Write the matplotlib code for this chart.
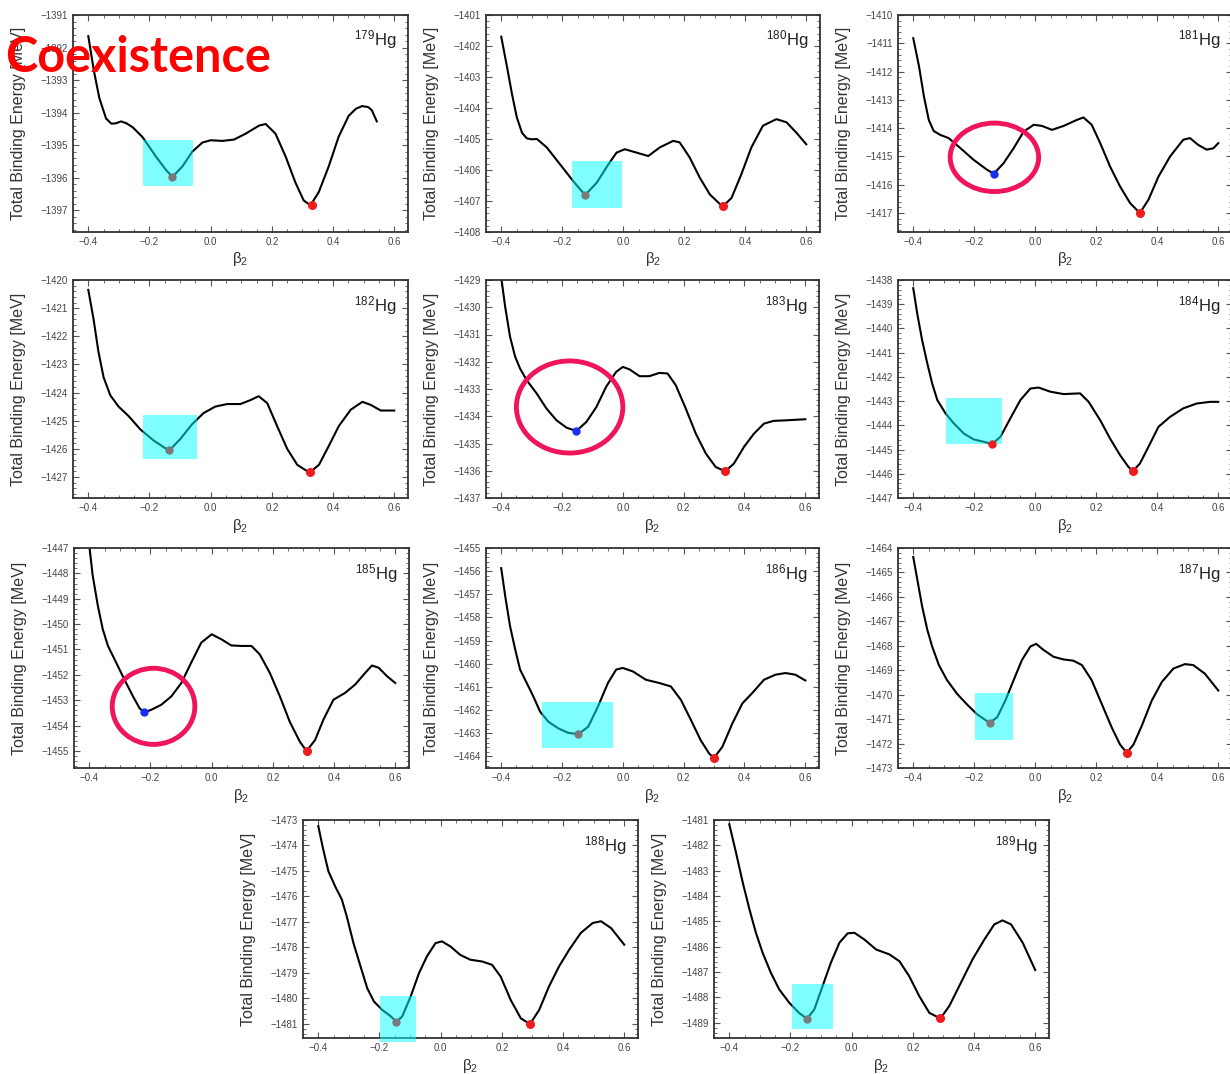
import matplotlib
matplotlib.use('Agg')
import matplotlib.pyplot as plt
from matplotlib.patches import Rectangle, Ellipse
from matplotlib.ticker import MultipleLocator

plt.rcParams['font.family'] = ['Liberation Sans', 'DejaVu Sans']
plt.rcParams['mathtext.default'] = 'regular'

# ---- energy curves (beta_2, total binding energy in MeV) ----
beta_179 = [-0.4, -0.382, -0.364, -0.342, -0.325, -0.31, -0.293, -0.275, -0.255, -0.223, -0.179, -0.147, -0.125,
            -0.092, -0.06, -0.027, 0.0, 0.038, 0.076, 0.114, 0.158, 0.18, 0.212, 0.245, 0.277, 0.304, 0.326,
            0.353, 0.386, 0.418, 0.451, 0.475, 0.495, 0.515, 0.527, 0.543]
E_179 = [-1391.65, -1392.7, -1393.55, -1394.18, -1394.34, -1394.33, -1394.27, -1394.33, -1394.45, -1394.75,
         -1395.35, -1395.75, -1395.98, -1395.65, -1395.2, -1394.92, -1394.85, -1394.87, -1394.83, -1394.65,
         -1394.4, -1394.35, -1394.65, -1395.35, -1396.15, -1396.7, -1396.85, -1396.45, -1395.65, -1394.75,
         -1394.1, -1393.88, -1393.8, -1393.83, -1393.93, -1394.27]

beta_180 = [-0.4, -0.381, -0.365, -0.349, -0.332, -0.316, -0.3, -0.283, -0.251, -0.207, -0.164, -0.125, -0.087,
            -0.049, -0.022, 0.005, 0.044, 0.082, 0.12, 0.164, 0.185, 0.218, 0.251, 0.284, 0.316, 0.327, 0.355,
            0.387, 0.42, 0.458, 0.502, 0.535, 0.567, 0.6]
E_180 = [-1401.70, -1402.68, -1403.54, -1404.30, -1404.80, -1404.98, -1405.01, -1405.0, -1405.27, -1405.82,
         -1406.36, -1406.81, -1406.41, -1405.82, -1405.44, -1405.33, -1405.44, -1405.55, -1405.27, -1405.06,
         -1405.11, -1405.60, -1406.25, -1406.79, -1407.09, -1407.17, -1406.90, -1406.14, -1405.27, -1404.57,
         -1404.36, -1404.46, -1404.79, -1405.17]

beta_181 = [-0.4, -0.381, -0.365, -0.349, -0.333, -0.311, -0.284, -0.245, -0.202, -0.158, -0.136, -0.104,
            -0.071, -0.038, -0.005, 0.022, 0.055, 0.093, 0.136, 0.158, 0.185, 0.213, 0.245, 0.278, 0.311, 0.343,
            0.371, 0.404, 0.442, 0.485, 0.507, 0.534, 0.562, 0.584, 0.6]
E_181 = [-1410.82, -1411.82, -1412.88, -1413.71, -1414.10, -1414.24, -1414.35, -1414.71, -1415.12, -1415.47,
         -1415.61, -1415.24, -1414.71, -1414.12, -1413.88, -1413.92, -1414.06, -1413.92, -1413.71, -1413.62,
         -1413.88, -1414.53, -1415.35, -1416.06, -1416.65, -1417.0, -1416.53, -1415.71, -1415.0, -1414.41,
         -1414.35, -1414.59, -1414.76, -1414.71, -1414.53]

beta_182 = [-0.4, -0.383, -0.367, -0.35, -0.328, -0.301, -0.268, -0.23, -0.186, -0.154, -0.135, -0.099,
            -0.061, -0.023, 0.015, 0.054, 0.097, 0.13, 0.157, 0.185, 0.217, 0.25, 0.283, 0.316, 0.325, 0.354,
            0.387, 0.419, 0.458, 0.496, 0.523, 0.556, 0.6]
E_182 = [-1420.35, -1421.38, -1422.54, -1423.46, -1424.10, -1424.50, -1424.84, -1425.31, -1425.71, -1425.94,
         -1426.06, -1425.65, -1425.13, -1424.73, -1424.50, -1424.41, -1424.41, -1424.27, -1424.13, -1424.38,
         -1425.19, -1426.0, -1426.57, -1426.80, -1426.83, -1426.57, -1425.88, -1425.19, -1424.61, -1424.33,
         -1424.44, -1424.64, -1424.64]

beta_183 = [-0.4, -0.387, -0.371, -0.354, -0.338, -0.316, -0.283, -0.251, -0.218, -0.185, -0.153, -0.12,
            -0.087, -0.055, -0.022, 0.0, 0.022, 0.055, 0.087, 0.12, 0.147, 0.174, 0.207, 0.24, 0.273, 0.305,
            0.336, 0.365, 0.398, 0.431, 0.464, 0.496, 0.535, 0.6]
E_183 = [-1428.9, -1429.98, -1431.08, -1431.82, -1432.25, -1432.68, -1433.17, -1433.72, -1434.15, -1434.42,
         -1434.54, -1434.21, -1433.66, -1432.92, -1432.37, -1432.19, -1432.28, -1432.53, -1432.53, -1432.41,
         -1432.43, -1432.86, -1433.72, -1434.64, -1435.37, -1435.86, -1436.02, -1435.74, -1435.13, -1434.64,
         -1434.27, -1434.17, -1434.15, -1434.11]

beta_184 = [-0.4, -0.387, -0.371, -0.354, -0.338, -0.321, -0.294, -0.267, -0.234, -0.202, -0.169, -0.142,
            -0.114, -0.082, -0.049, -0.016, 0.011, 0.049, 0.093, 0.147, 0.175, 0.213, 0.245, 0.278, 0.305, 0.32,
            0.343, 0.371, 0.404, 0.442, 0.485, 0.529, 0.573, 0.6]
E_184 = [-1438.34, -1439.38, -1440.48, -1441.44, -1442.27, -1442.96, -1443.51, -1443.92, -1444.34, -1444.58,
         -1444.68, -1444.78, -1444.47, -1443.72, -1442.96, -1442.48, -1442.44, -1442.61, -1442.71, -1442.68,
         -1443.03, -1443.79, -1444.54, -1445.23, -1445.71, -1445.89, -1445.58, -1444.89, -1444.06, -1443.65,
         -1443.30, -1443.10, -1443.03, -1443.03]

beta_185 = [-0.4, -0.389, -0.372, -0.356, -0.339, -0.312, -0.285, -0.257, -0.236, -0.221, -0.198, -0.165,
            -0.132, -0.099, -0.067, -0.034, 0.0, 0.032, 0.064, 0.097, 0.13, 0.157, 0.19, 0.223, 0.255, 0.288,
            0.31, 0.338, 0.365, 0.398, 0.436, 0.469, 0.502, 0.524, 0.546, 0.573, 0.6]
E_185 = [-1446.9, -1448.08, -1449.28, -1450.20, -1450.86, -1451.52, -1452.19, -1452.85, -1453.31, -1453.48,
         -1453.38, -1453.18, -1452.85, -1452.32, -1451.52, -1450.73, -1450.40, -1450.60, -1450.84, -1450.86,
         -1450.86, -1451.19, -1451.92, -1452.85, -1453.84, -1454.63, -1455.0, -1454.57, -1453.77, -1452.98,
         -1452.71, -1452.38, -1451.92, -1451.63, -1451.72, -1452.05, -1452.32]

beta_186 = [-0.4, -0.387, -0.371, -0.354, -0.338, -0.316, -0.294, -0.272, -0.245, -0.212, -0.18, -0.147,
            -0.114, -0.082, -0.049, -0.022, 0.0, 0.033, 0.076, 0.12, 0.158, 0.191, 0.224, 0.256, 0.284, 0.3,
            0.327, 0.36, 0.393, 0.425, 0.464, 0.502, 0.535, 0.567, 0.6]
E_186 = [-1455.87, -1457.06, -1458.37, -1459.38, -1460.25, -1460.83, -1461.42, -1462.07, -1462.50, -1462.79,
         -1462.98, -1463.04, -1462.72, -1461.85, -1460.83, -1460.25, -1460.18, -1460.33, -1460.69, -1460.83,
         -1460.98, -1461.56, -1462.43, -1463.30, -1463.88, -1464.06, -1463.59, -1462.58, -1461.71, -1461.27,
         -1460.69, -1460.47, -1460.40, -1460.47, -1460.72]

beta_187 = [-0.4, -0.387, -0.371, -0.354, -0.338, -0.316, -0.289, -0.256, -0.223, -0.191, -0.163, -0.149,
            -0.125, -0.098, -0.071, -0.044, -0.016, 0.003, 0.027, 0.06, 0.093, 0.125, 0.153, 0.185, 0.218, 0.251,
            0.278, 0.3, 0.322, 0.349, 0.382, 0.415, 0.453, 0.491, 0.518, 0.556, 0.6]
E_187 = [-1464.37, -1465.27, -1466.38, -1467.34, -1468.03, -1468.79, -1469.41, -1469.97, -1470.41, -1470.80,
         -1471.04, -1471.14, -1470.93, -1470.24, -1469.41, -1468.59, -1468.03, -1467.92, -1468.17, -1468.45,
         -1468.56, -1468.61, -1468.79, -1469.41, -1470.38, -1471.35, -1472.04, -1472.38, -1472.04, -1471.28,
         -1470.24, -1469.48, -1468.93, -1468.75, -1468.79, -1469.14, -1469.83]

beta_188 = [-0.4, -0.384, -0.367, -0.345, -0.323, -0.307, -0.285, -0.262, -0.24, -0.218, -0.191, -0.164,
            -0.145, -0.126, -0.098, -0.071, -0.045, -0.017, 0.004, 0.032, 0.064, 0.097, 0.136, 0.168, 0.196,
            0.229, 0.262, 0.292, 0.322, 0.354, 0.387, 0.42, 0.458, 0.497, 0.524, 0.557, 0.6]
E_188 = [-1473.24, -1474.15, -1475.01, -1475.60, -1476.12, -1476.78, -1477.83, -1478.74, -1479.60, -1480.12,
         -1480.45, -1480.69, -1480.91, -1480.71, -1479.92, -1479.01, -1478.35, -1477.83, -1477.76, -1477.96,
         -1478.29, -1478.48, -1478.55, -1478.68, -1479.14, -1480.06, -1480.78, -1481.0, -1480.45, -1479.53,
         -1478.74, -1478.09, -1477.43, -1477.04, -1476.97, -1477.24, -1477.89]

beta_189 = [-0.4, -0.378, -0.356, -0.334, -0.313, -0.291, -0.264, -0.237, -0.204, -0.172, -0.146, -0.122,
            -0.095, -0.068, -0.04, -0.013, 0.009, 0.041, 0.08, 0.123, 0.156, 0.188, 0.221, 0.254, 0.29, 0.319,
            0.357, 0.395, 0.434, 0.466, 0.493, 0.521, 0.559, 0.6]
E_189 = [-1481.17, -1482.29, -1483.47, -1484.53, -1485.45, -1486.24, -1487.03, -1487.68, -1488.21, -1488.61,
         -1488.84, -1488.47, -1487.55, -1486.63, -1485.84, -1485.47, -1485.45, -1485.71, -1486.11, -1486.30,
         -1486.57, -1487.16, -1487.95, -1488.61, -1488.83, -1488.34, -1487.42, -1486.50, -1485.71, -1485.12,
         -1484.96, -1485.12, -1485.84, -1486.92]

isotopes = [179, 180, 181, 182, 183, 184, 185, 186, 187, 188, 189]
betas = [beta_179, beta_180, beta_181, beta_182, beta_183, beta_184, beta_185, beta_186, beta_187, beta_188, beta_189]
energies = [E_179, E_180, E_181, E_182, E_183, E_184, E_185, E_186, E_187, E_188, E_189]

# oblate (second) minimum and prolate (global) minimum
oblate_beta = [-0.125, -0.125, -0.136, -0.135, -0.153, -0.142, -0.221, -0.147, -0.149, -0.145, -0.146]
oblate_E = [-1395.97, -1406.81, -1415.61, -1426.06, -1434.54, -1444.78, -1453.48, -1463.04, -1471.14, -1480.91, -1488.84]
oblate_kind = ['gray', 'gray', 'blue', 'gray', 'blue', 'red', 'blue', 'gray', 'gray', 'gray', 'gray']
prolate_beta = [0.33, 0.327, 0.343, 0.325, 0.336, 0.320, 0.310, 0.300, 0.300, 0.292, 0.290]
prolate_E = [-1396.85, -1407.17, -1417.0, -1426.83, -1436.02, -1445.89, -1455.0, -1464.06, -1472.38, -1481.0, -1488.83]

# cyan highlight boxes: isotope -> (beta from, beta to, E low, E high)
boxes = {179: (-0.221, -0.058, -1396.25, -1394.85),
         180: (-0.169, -0.005, -1407.22, -1405.71),
         182: (-0.220, -0.045, -1426.37, -1424.79),
         184: (-0.294, -0.109, -1444.78, -1442.86),
         186: (-0.267, -0.033, -1463.64, -1461.63),
         187: (-0.198, -0.073, -1471.86, -1469.94),
         188: (-0.198, -0.080, -1481.69, -1479.92),
         189: (-0.195, -0.060, -1489.26, -1487.46)}

# hand drawn circles: isotope -> (centre beta, centre E, width, height)
loops = {181: (-0.134, -1415.03, 0.29, 2.42),
         183: (-0.175, -1433.66, 0.35, 3.38),
         185: (-0.19, -1453.24, 0.27, 3.0)}

y_top = [-1391, -1401, -1410, -1420, -1429, -1438, -1447, -1455, -1464, -1473, -1481]
y_bottom = [-1397.67, -1408, -1417.67, -1427.75, -1437, -1447, -1455.67, -1464.5, -1473, -1481.55, -1489.6]

# ---- layout in pixels: left, top, right, bottom ----
W, H = 1230, 1074
frames = [(73, 15, 408, 232), (486, 15, 820, 232), (898, 15, 1232, 232),
          (73, 280, 408, 498), (486, 280, 819, 498), (898, 280, 1232, 498),
          (74, 548, 409, 768), (486, 548, 819, 768), (898, 548, 1232, 768),
          (303, 820, 638, 1038), (714, 820, 1049, 1038)]

dot_colors = {'gray': '#7a7a7a', 'red': '#ee1c1c', 'blue': '#1a2ff0'}

fig = plt.figure(figsize=(W / 100, H / 100), dpi=100)

for i, iso in enumerate(isotopes):
    l, t, r, b = frames[i]
    ax = fig.add_axes([l / W, 1 - b / H, (r - l) / W, (b - t) / H])
    ax.plot(betas[i], energies[i], color='black', lw=1.5, zorder=2, solid_joinstyle='round')
    ax.plot(oblate_beta[i], oblate_E[i], 'o', color=dot_colors[oblate_kind[i]], ms=5, zorder=4)
    ax.plot(prolate_beta[i], prolate_E[i], 'o', color=dot_colors['red'], ms=5.5, zorder=4)

    if iso in boxes:
        b0, b1, e0, e1 = boxes[iso]
        ax.add_patch(Rectangle((b0, e0), b1 - b0, e1 - e0, facecolor='#00ffff', alpha=0.5,
                               edgecolor='none', zorder=3, clip_on=False))
    if iso in loops:
        cx, cy, w, h = loops[iso]
        ax.add_patch(Ellipse((cx, cy), w, h, fill=False, edgecolor='#f0145a', lw=3.5,
                             zorder=5, clip_on=False))

    ax.set_xlim(-0.45, 0.645)
    ax.set_ylim(y_bottom[i], y_top[i])
    ax.xaxis.set_major_locator(MultipleLocator(0.2))
    ax.xaxis.set_minor_locator(MultipleLocator(0.05))
    ax.yaxis.set_major_locator(MultipleLocator(1))
    ax.yaxis.set_minor_locator(MultipleLocator(0.2))
    ax.ticklabel_format(axis='y', useOffset=False)
    ax.tick_params(which='both', direction='in', top=True, right=True, labelsize=7,
                   labelcolor='#444444', color='#555555')
    ax.tick_params(which='major', length=4)
    ax.tick_params(which='minor', length=2)
    for s in ax.spines.values():
        s.set_linewidth(1.3)
        s.set_color('#333333')

    ax.set_ylabel('Total Binding Energy [MeV]', fontsize=11.5, color='#333333')
    ax.yaxis.set_label_coords(-0.14, 0.5)
    ax.set_xlabel('β$_2$', fontsize=11, color='#333333')
    ax.xaxis.set_label_coords(0.5, -0.085)
    ax.text(0.965, 0.885, f'$^{{{iso}}}$Hg', transform=ax.transAxes, ha='right', va='center',
            fontsize=12, color='#222222')

fig.text(5 / W, 1 - 57 / H, 'Coexistence', color='#ff0000', fontsize=35, fontweight='bold',
         family=['Lato', 'DejaVu Sans'], ha='left', va='center', zorder=10)

fig.savefig('out.png', dpi=100)
